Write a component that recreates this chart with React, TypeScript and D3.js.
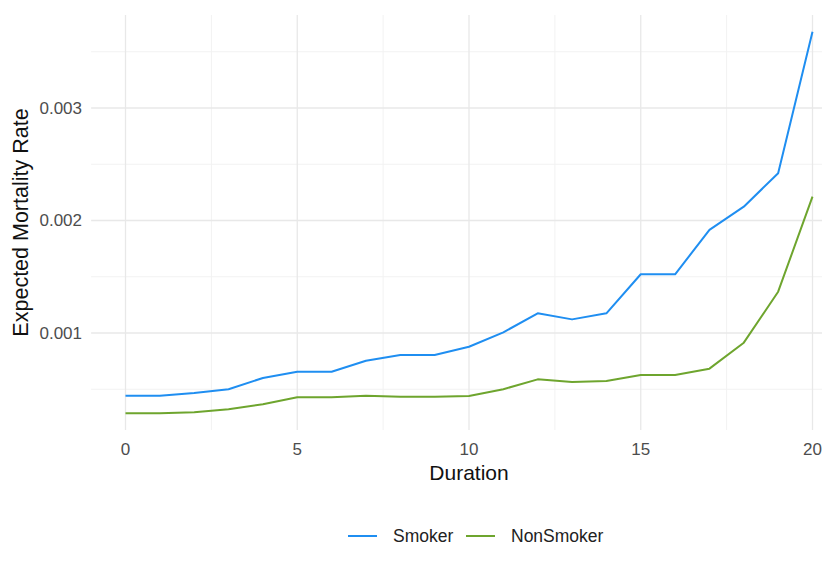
import React from 'react';
import * as d3 from 'd3';

const durations = d3.range(0, 21);
const smoker = [
  0.000443, 0.000443, 0.000467, 0.0005, 0.0006, 0.000656, 0.000656, 0.000754, 0.000804, 0.000804, 0.000878,
  0.001006, 0.001175, 0.001121, 0.001175, 0.001522, 0.001522, 0.001916, 0.002123, 0.00242, 0.003678,
];
const nonSmoker = [
  0.000286, 0.000286, 0.000295, 0.000322, 0.000366, 0.000428, 0.000428, 0.000443, 0.000434, 0.000434, 0.00044,
  0.0005, 0.000588, 0.000564, 0.000573, 0.000627, 0.000627, 0.000683, 0.000914, 0.001367, 0.002212,
];
const xTicks = [0, 5, 10, 15, 20];
const xMinor = [2.5, 7.5, 12.5, 17.5];
const yTicks = [0.001, 0.002, 0.003];
const yMinor = [0.0005, 0.0015, 0.0025, 0.0035];

const series = [
  { name: 'Smoker', values: smoker, color: '#1f8ef1' },
  { name: 'NonSmoker', values: nonSmoker, color: '#6ea52e' },
];

const W = 838;
const H = 566;
const font = '"Liberation Sans", Arial, sans-serif';

export default function App() {
  const x = d3.scaleLinear().domain([0, 20]).range([125.5, 812.5]);
  const y = d3.scaleLinear().domain([0, 0.003]).range([445.5, 108]);
  const left = x(-1);
  const right = 822;
  const top = 15;
  const bottom = 430;

  const line = d3
    .line<number>()
    .x((_, i) => x(durations[i]))
    .y((d) => y(d));

  return (
    <svg width={W} height={H} style={{ position: 'absolute', left: 0, top: 0, background: '#fff' }} fontFamily={font}>
      <rect width={W} height={H} fill="#fff" />
      {yMinor.map((t) => (
        <line key={'ym' + t} x1={left} x2={right} y1={y(t)} y2={y(t)} stroke="#f2f2f2" strokeWidth={1} />
      ))}
      {xMinor.map((t) => (
        <line key={'xm' + t} x1={x(t)} x2={x(t)} y1={top} y2={bottom} stroke="#f2f2f2" strokeWidth={1} />
      ))}
      {yTicks.map((t) => (
        <line key={'y' + t} x1={left} x2={right} y1={y(t)} y2={y(t)} stroke="#e8e8e8" strokeWidth={1.3} />
      ))}
      {xTicks.map((t) => (
        <line key={'x' + t} x1={x(t)} x2={x(t)} y1={top} y2={bottom} stroke="#e8e8e8" strokeWidth={1.3} />
      ))}

      {series.map((s) => (
        <path key={s.name} d={line(s.values) ?? ''} fill="none" stroke={s.color} strokeWidth={2} strokeLinejoin="round" />
      ))}

      {yTicks.map((t) => (
        <text key={'yl' + t} x={82} y={y(t)} dy="0.35em" textAnchor="end" fontSize={17} fill="#4d4d4d">
          {d3.format('.3f')(t)}
        </text>
      ))}
      {xTicks.map((t) => (
        <text key={'xl' + t} x={x(t)} y={455} textAnchor="middle" fontSize={17} fill="#4d4d4d">
          {t}
        </text>
      ))}

      <text x={469} y={480} textAnchor="middle" fontSize={21} fill="#111">
        Duration
      </text>
      <text transform={`translate(28,222.5) rotate(-90)`} textAnchor="middle" fontSize={21.5} fill="#111">
        Expected Mortality Rate
      </text>

      {series.map((s, i) => {
        const lx = i === 0 ? 348 : 466;
        return (
          <g key={'lg' + s.name}>
            <line x1={lx} x2={lx + 29} y1={536} y2={536} stroke={s.color} strokeWidth={2} />
            <text x={lx + 45} y={542} fontSize={17.5} fill="#222">
              {s.name}
            </text>
          </g>
        );
      })}
    </svg>
  );
}
